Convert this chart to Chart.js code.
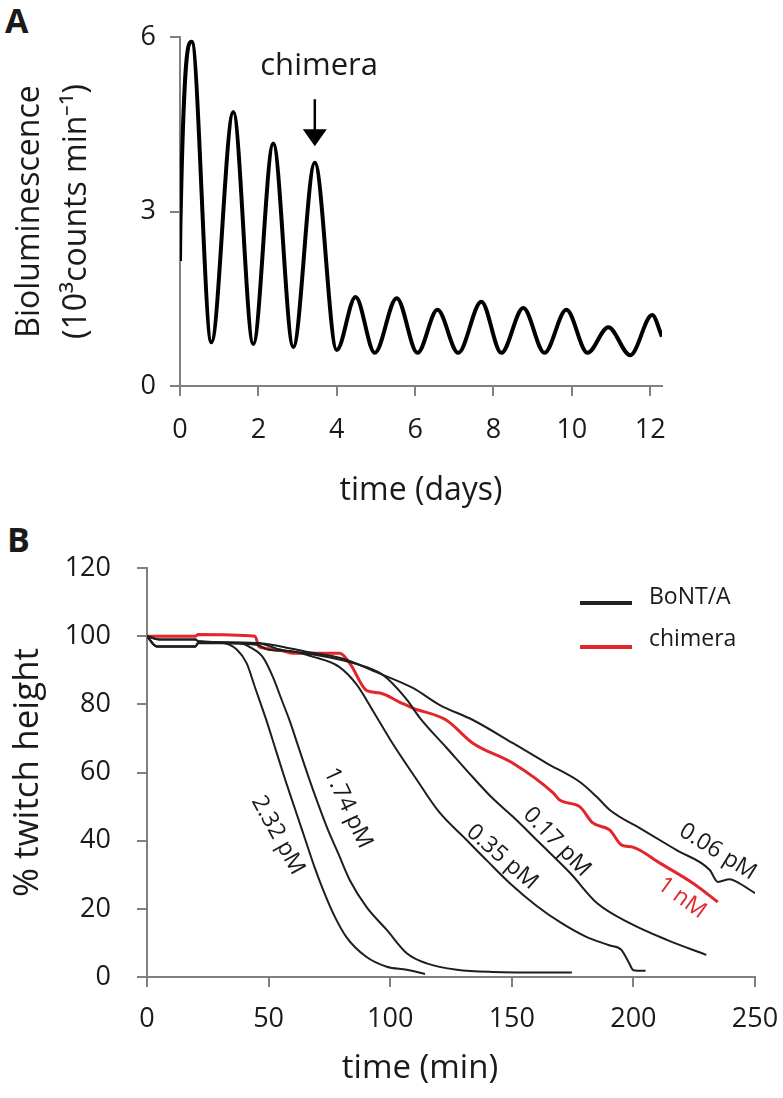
<!DOCTYPE html>
<html>
<head>
<meta charset="utf-8">
<script src="https://cdn.jsdelivr.net/npm/chart.js@4.4.1/dist/chart.umd.min.js"></script>
<style>
  html, body { margin: 0; padding: 0; background: #fff; }
  body { width: 783px; height: 1098px; position: relative; overflow: hidden; font-family: 'Open Sans', sans-serif; color: #1a1a1a; }
  canvas { position: absolute; left: 0; }
  #chartA { top: 0; }
  #chartB { top: 520px; }
  .letter { position: absolute; font-weight: 700; font-size: 34px; line-height: 1; }
  .txt { position: absolute; line-height: 1; white-space: nowrap; }
  .swatch { position: absolute; width: 52px; height: 4px; }
</style>
</head>
<body>
<div class="letter" style="left:5px; top:3px;">A</div>
<div class="letter" style="left:7px; top:522px;">B</div>

<canvas id="chartA" width="783" height="520"></canvas>
<canvas id="chartB" width="783" height="578"></canvas>

<!-- legend of panel B -->
<div class="swatch" style="left:580px; top:601px; background:#222;"></div>
<div class="txt" style="left:649px; top:584px; font-size:23px;">BoNT/A</div>
<div class="swatch" style="left:580px; top:645px; background:#e3262b;"></div>
<div class="txt" style="left:649px; top:626px; font-size:23px;">chimera</div>

<div class="txt" style="left:420px; top:1065px; font-size:33px; transform:translate(-50%,-50%);">time (min)</div>

<script>
// ---------- Panel A: bioluminescence rhythm ----------
const days   = [0, 0.01, 0.30, 0.80, 1.36, 1.87, 2.38, 2.89, 3.44, 4.00, 4.48, 4.97, 5.53, 6.06,
                6.57, 7.10, 7.69, 8.20, 8.76, 9.30, 9.86, 10.40, 10.93, 11.49, 12.05, 12.30];
const biolum = [2.15, 2.75, 5.92, 0.75, 4.71, 0.72, 4.17, 0.67, 3.84, 0.62, 1.53, 0.57, 1.51, 0.57,
                1.31, 0.57, 1.45, 0.57, 1.34, 0.57, 1.31, 0.57, 1.01, 0.53, 1.22, 0.85];
const ticksA_y = [0, 3, 6];

// ---------- Panel B: twitch height (minutes, %) ----------
const t232 = [0, 4, 20, 21, 31, 37, 41, 44.4, 49, 53, 57, 61, 65, 69, 73, 77, 82, 90, 98.6, 106.8, 114.3];
const v232 = [100, 97, 97, 98, 98, 96, 92, 85, 75.5, 66.5, 57.5, 49, 40.5, 32, 24.5, 18, 11.7, 6, 3, 2.1, 0.9];

const t174 = [0, 4, 20, 21, 38, 42.3, 47.7, 51.8, 55, 58.5, 62.5, 66.5, 70.5, 74.5, 78.5, 83.4, 90.3, 98.6, 106.8, 115, 127.4, 142, 174.7];
const v174 = [100, 97, 97, 98, 98, 96.8, 93.8, 88, 82, 75.5, 67, 58.5, 50.5, 43, 36.5, 28.4, 20.5, 13.8, 7, 4, 2.1, 1.5, 1.3];

const t035 = [0, 4, 20, 21, 45, 50, 60, 68, 79, 86, 93, 101, 111, 120, 131, 140, 150, 160, 170, 180, 190, 195, 198, 200, 205];
const v035 = [100, 97, 97, 98, 97.5, 96, 95.5, 94, 91, 86, 78, 68.5, 57.8, 48.5, 40.5, 34, 27, 21, 16, 12, 9.3, 8, 4.4, 2, 1.8];

const t017 = [0, 5, 20, 21, 45, 55, 65, 80, 95, 98.6, 107, 112, 123, 134, 142, 150.5, 161.5, 174, 185, 198.5, 213.7, 230];
const v017 = [100, 99, 99, 98.5, 98, 96, 95, 93, 89.5, 87.7, 81.2, 76.2, 67.4, 58.6, 52.5, 47, 39.3, 30.5, 21.7, 15.8, 10.9, 6.5];

const t006 = [0, 5, 20, 21, 45, 55, 65, 80, 95.8, 109.3, 120.4, 134, 150.5, 164.4, 178, 185, 190.3, 204, 217.8, 231.4, 234.7, 239.6, 242.5, 250];
const v006 = [100, 99, 99, 98.5, 98, 97, 95.5, 93.5, 89, 84.8, 79.8, 75.4, 68.6, 62.7, 57.2, 52.8, 49, 43.1, 37.2, 31.4, 27.9, 28.7, 27.9, 24.6];

const tChim = [0, 20, 21, 44.4, 46, 48, 54, 60, 79.3, 83.4, 90.4, 95.8, 104, 109.3, 123, 134, 150.5, 167, 169.7, 178, 183.3, 190.3, 195.2, 199.7, 210.9, 224.5, 234.7];
const vChim = [100, 100, 100.5, 100, 97, 96.5, 96, 95, 95, 92, 84, 83.3, 80.6, 78.9, 75.4, 68.6, 62.7, 54, 51.9, 49.9, 45.2, 43.1, 38.7, 38.1, 33.4, 27.5, 22];

const BLACK = '#1e1e1e';
const RED = '#e3262b';
const AXIS = '#808080';

Chart.defaults.font.family = "'Open Sans', sans-serif";
Chart.defaults.color = '#1a1a1a';

const pts = (xs, ys) => xs.map((x, i) => ({ x: x, y: ys[i] }));

// Text / arrow notes placed in data coordinates
function notesPlugin(items) {
    return {
        id: 'notes',
        afterDatasetsDraw(chart) {
            const { ctx, scales: { x, y } } = chart;
            items.forEach(n => {
                ctx.save();
                if (n.arrow) {
                    const px = x.getPixelForValue(n.x);
                    const top = y.getPixelForValue(n.from);
                    const tip = y.getPixelForValue(n.to);
                    ctx.strokeStyle = '#000';
                    ctx.fillStyle = '#000';
                    ctx.lineWidth = 2.5;
                    ctx.beginPath();
                    ctx.moveTo(px, top);
                    ctx.lineTo(px, tip - 14);
                    ctx.stroke();
                    ctx.beginPath();
                    ctx.moveTo(px - 12, tip - 17);
                    ctx.lineTo(px + 12, tip - 17);
                    ctx.lineTo(px, tip);
                    ctx.closePath();
                    ctx.fill();
                } else {
                    ctx.translate(x.getPixelForValue(n.x), y.getPixelForValue(n.y));
                    ctx.rotate((n.angle || 0) * Math.PI / 180);
                    ctx.font = n.size + "px 'Open Sans', sans-serif";
                    ctx.fillStyle = n.color || '#1a1a1a';
                    ctx.textAlign = 'center';
                    ctx.textBaseline = 'middle';
                    ctx.fillText(n.text, 0, 0);
                }
                ctx.restore();
            });
        }
    };
}

const axisStyle = {
    grid: { drawOnChartArea: false, drawTicks: true, tickLength: 10, color: AXIS, lineWidth: 2 },
    border: { display: true, color: AXIS, width: 2 }
};

// keep the plot box where the reference has it (no extra room for edge labels)
const fixX = h => s => { s.height = h; s.paddingLeft = 0; s.paddingRight = 0; };

/* -------------------------------------
   Panel A
------------------------------------- */
new Chart(document.getElementById('chartA'), {
    type: 'line',
    data: {
        datasets: [{
            data: pts(days, biolum),
            borderColor: '#000',
            borderWidth: 4,
            pointRadius: 0,
            cubicInterpolationMode: 'monotone',
            fill: false
        }]
    },
    options: {
        responsive: false,
        animation: false,
        devicePixelRatio: 1,
        layout: { padding: { left: 0, right: 121, top: 37, bottom: 0 } },
        plugins: { legend: { display: false }, tooltip: { enabled: false } },
        scales: {
            x: {
                type: 'linear', min: 0, max: 12.3,
                ...axisStyle,
                ticks: { stepSize: 2, includeBounds: false, padding: 18, font: { size: 27 }, color: '#1a1a1a' },
                title: { display: true, text: 'time (days)', font: { size: 32 }, padding: { top: 0, bottom: 10 } },
                afterFit: fixX(134)
            },
            y: {
                type: 'linear', min: 0, max: 6,
                ...axisStyle,
                afterBuildTicks: s => { s.ticks = ticksA_y.map(v => ({ value: v })); },
                ticks: { padding: 14, font: { size: 27 }, color: '#1a1a1a' },
                title: {
                    display: true,
                    text: ['Bioluminescence', '(10³counts min⁻¹)'],
                    font: { size: 32, lineHeight: 1.45 },
                    padding: { top: 7, bottom: 0 }
                },
                afterFit: s => { s.width = 180; }
            }
        }
    },
    plugins: [notesPlugin([
        { text: 'chimera', x: 3.55, y: 5.5, size: 31 },
        { arrow: true, x: 3.44, from: 4.93, to: 4.12 }
    ])]
});

/* -------------------------------------
   Panel B
------------------------------------- */
const seriesB = [
    { t: t232, v: v232, color: BLACK, width: 2 },
    { t: t174, v: v174, color: BLACK, width: 2 },
    { t: t035, v: v035, color: BLACK, width: 2 },
    { t: t017, v: v017, color: BLACK, width: 2 },
    { t: t006, v: v006, color: BLACK, width: 2 },
    { t: tChim, v: vChim, color: RED, width: 3 }
];

new Chart(document.getElementById('chartB'), {
    type: 'line',
    data: {
        datasets: seriesB.map(s => ({
            data: pts(s.t, s.v),
            borderColor: s.color,
            borderWidth: s.width,
            pointRadius: 0,
            cubicInterpolationMode: 'monotone',
            fill: false
        }))
    },
    options: {
        responsive: false,
        animation: false,
        devicePixelRatio: 1,
        layout: { padding: { left: 0, right: 28, top: 48, bottom: 0 } },
        plugins: { legend: { display: false }, tooltip: { enabled: false } },
        scales: {
            x: {
                type: 'linear', min: 0, max: 250,
                ...axisStyle,
                ticks: { stepSize: 50, padding: 16, font: { size: 27 }, color: '#1a1a1a' },
                afterFit: fixX(121)
            },
            y: {
                type: 'linear', min: 0, max: 120,
                ...axisStyle,
                ticks: { stepSize: 20, padding: 26, font: { size: 27 }, color: '#1a1a1a' },
                title: { display: true, text: '% twitch height', font: { size: 35 }, padding: { top: 7, bottom: 0 } },
                afterFit: s => { s.width = 147; }
            }
        }
    },
    plugins: [notesPlugin([
        { text: '2.32 pM', x: 53.8, y: 41.6, angle: 61, size: 23 },
        { text: '1.74 pM', x: 82.6, y: 49.6, angle: 65, size: 23 },
        { text: '0.35 pM', x: 146, y: 35.2, angle: 41, size: 23 },
        { text: '0.17 pM', x: 168.5, y: 39.6, angle: 46, size: 23 },
        { text: '0.06 pM', x: 234.7, y: 36.7, angle: 32, size: 23 },
        { text: '1 nM', x: 219.9, y: 23.2, angle: 36, size: 23, color: RED }
    ])]
});
</script>
</body>
</html>
